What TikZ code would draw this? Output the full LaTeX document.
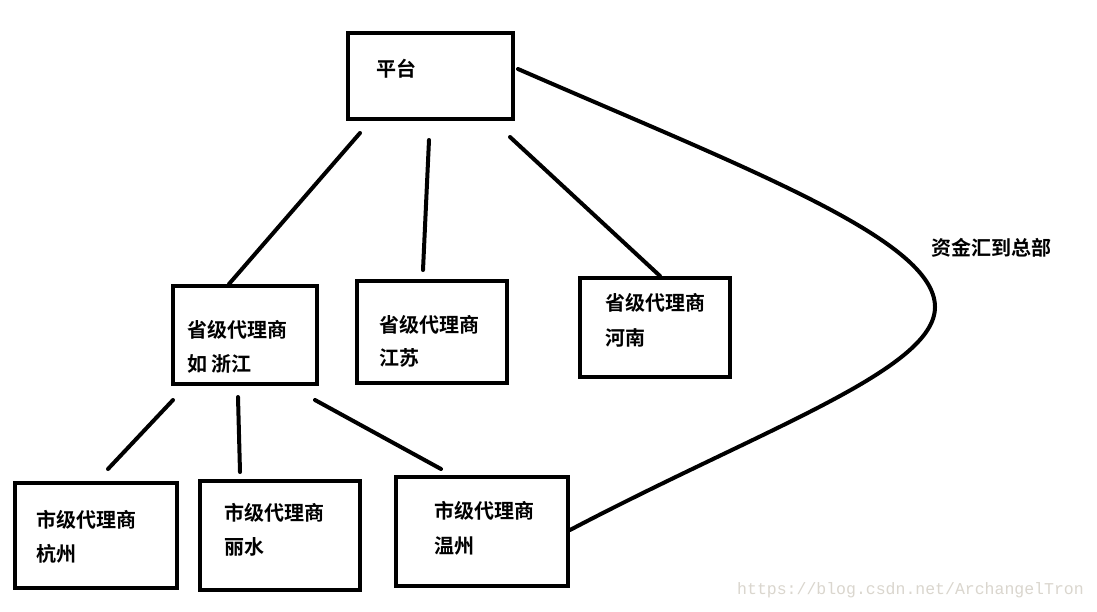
\documentclass[tikz,border=0pt]{standalone}
\usepackage{fontspec}
\newfontfamily\cjk{Noto Sans CJK SC Bold}
\newfontfamily\wmfont{Liberation Mono}
\definecolor{wmgray}{RGB}{218,214,206}
\begin{document}
\begin{tikzpicture}[x=1pt,y=-1pt,
  box/.style={draw=black,line width=4.5pt,fill=none,inner sep=0pt},
  lbl/.style={anchor=west,inner sep=0pt,font=\cjk\fontsize{20}{24}\selectfont},
  link/.style={line width=4pt,line cap=round}]
\useasboundingbox (0,0) rectangle (1097,611);
\fill[white] (0,0) rectangle (1097,611);
% boxes
\node[box,minimum width=165pt,minimum height=86pt] (pt) at (430.5,76) {};
\node[box,minimum width=144pt,minimum height=98pt] (zj) at (245,335) {};
\node[box,minimum width=150pt,minimum height=102pt] (js) at (432,332) {};
\node[box,minimum width=150pt,minimum height=99pt] (hn) at (655,327.5) {};
\node[box,minimum width=162pt,minimum height=105pt] (hz) at (96,535.5) {};
\node[box,minimum width=160pt,minimum height=109pt] (ls) at (280,535.5) {};
\node[box,minimum width=172pt,minimum height=109pt] (wz) at (482,531.5) {};
% texts
\node[lbl] (tpt) at (376,69) {平台};
\node[lbl] (tzj1) at (187,330) {省级代理商};
\node[lbl] (tzj2) at (187,364) {如 浙江};
\node[lbl] (tjs1) at (379,325) {省级代理商};
\node[lbl] (tjs2) at (379,358) {江苏};
\node[lbl] (thn1) at (605,303) {省级代理商};
\node[lbl] (thn2) at (605,338) {河南};
\node[lbl] (thz1) at (36,520) {市级代理商};
\node[lbl] (thz2) at (36,554) {杭州};
\node[lbl] (tls1) at (224,513) {市级代理商};
\node[lbl] (tls2) at (224,547) {丽水};
\node[lbl] (twz1) at (434,511) {市级代理商};
\node[lbl] (twz2) at (434,546) {温州};
\node[lbl] (tfund) at (931,248) {资金汇到总部};
\node[anchor=west,inner sep=0pt,text=wmgray,font=\wmfont\fontsize{16.5}{18}\selectfont] (wm) at (737,590) {https://blog.csdn.net/ArchangelTron};
% connector end points
\coordinate (a1) at (360,133); \coordinate (a2) at (229,284);
\coordinate (b1) at (429,140); \coordinate (b2) at (423,270);
\coordinate (c1) at (510,137); \coordinate (c2) at (660,276);
\coordinate (d1) at (173,400); \coordinate (d2) at (108,469);
\coordinate (e1) at (238,397); \coordinate (e2) at (240,472);
\coordinate (f1) at (315,400); \coordinate (f2) at (441,469);
\coordinate (g1) at (518,69); \coordinate (gm) at (935,307); \coordinate (g2) at (570,530);
\draw[link] (a1) -- (a2);
\draw[link] (b1) -- (b2);
\draw[link] (c1) -- (c2);
\draw[link] (d1) -- (d2);
\draw[link] (e1) -- (e2);
\draw[link] (f1) -- (f2);
\draw[link] (g1) .. controls (750,170) and (935,240) .. (gm) .. controls (935,370) and (760,430) .. (g2);
\end{tikzpicture}
\end{document}
